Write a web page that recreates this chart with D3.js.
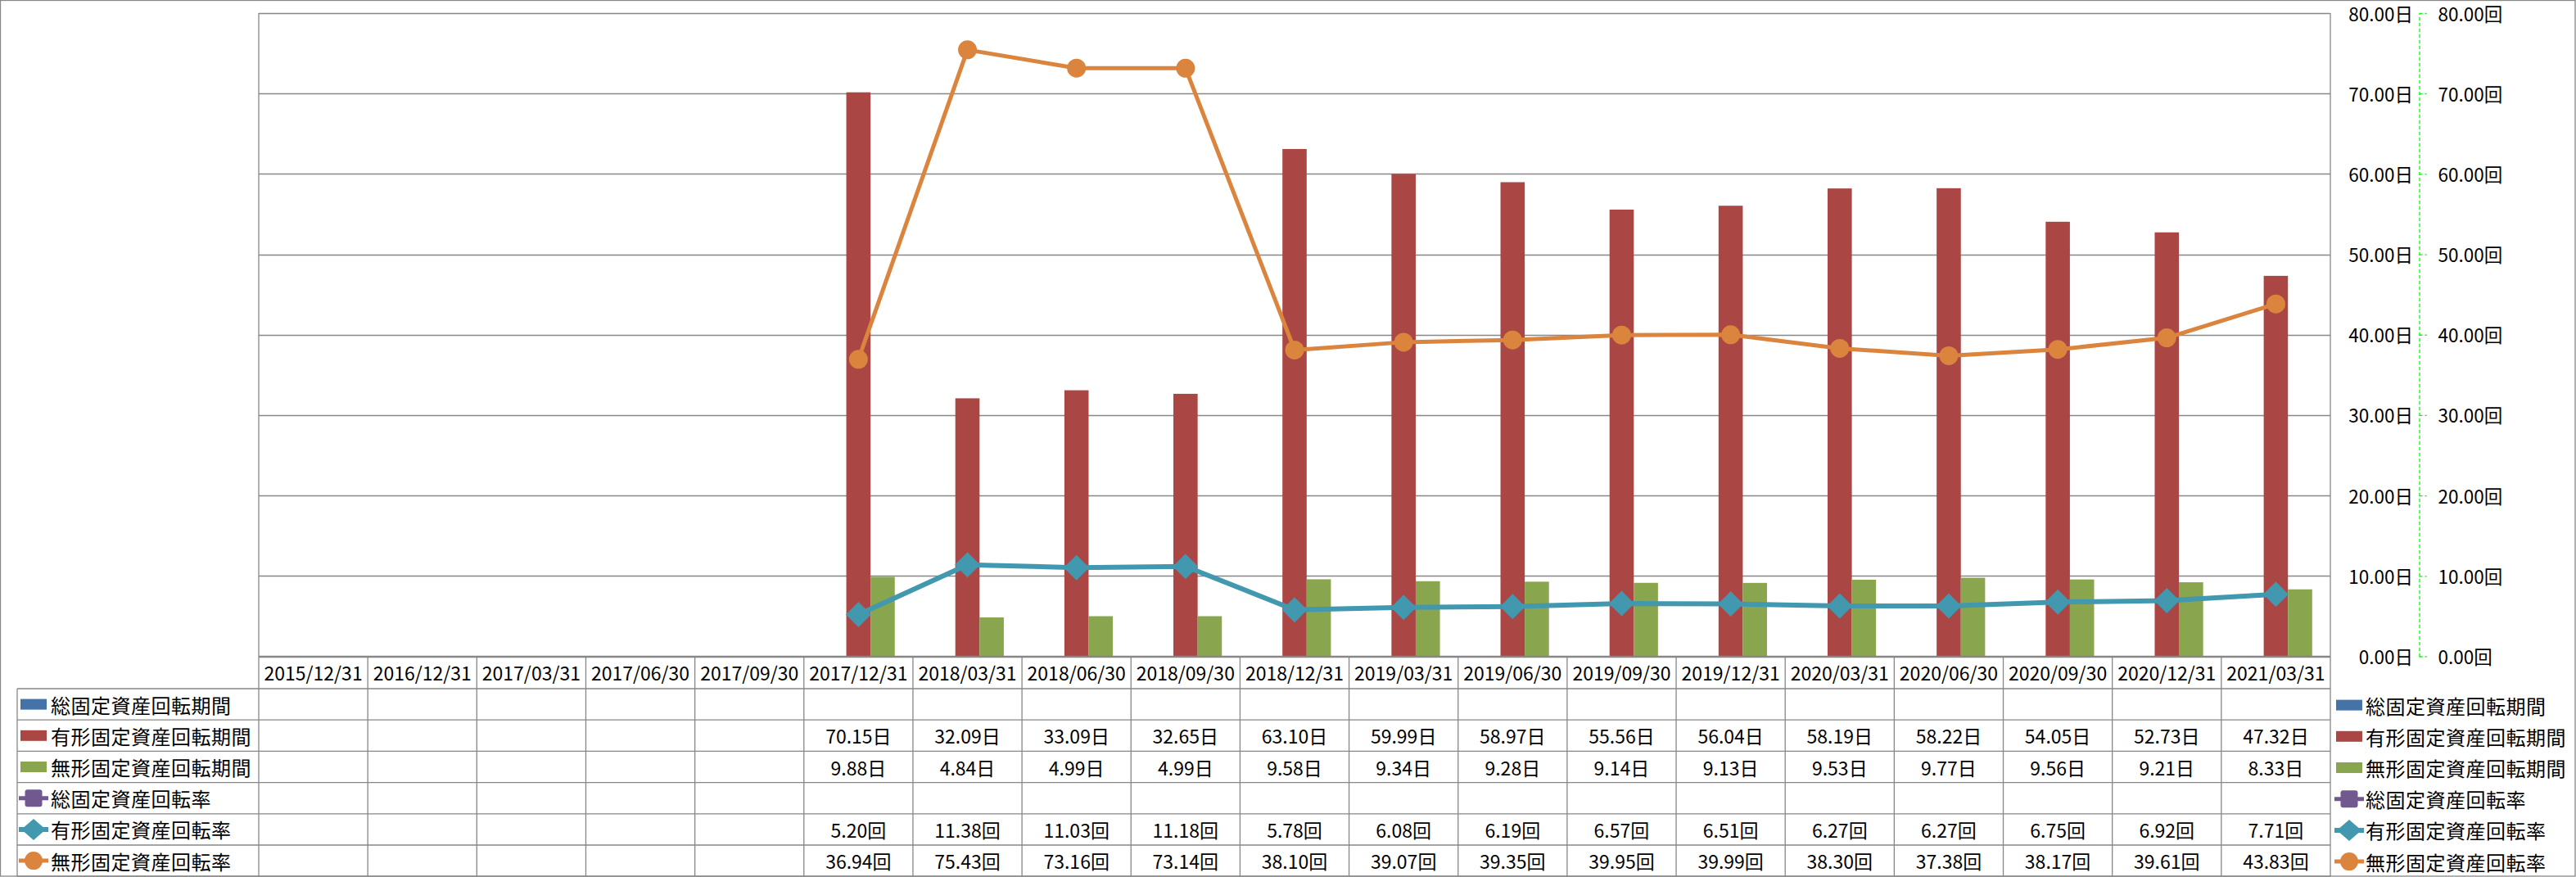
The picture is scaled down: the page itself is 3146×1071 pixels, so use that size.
<!DOCTYPE html>
<html><head><meta charset="utf-8">
<script src="https://cdn.jsdelivr.net/npm/d3@7"></script>
<style>
html,body{margin:0;padding:0;background:#fff;}
svg{display:block;font-family:"Noto Sans CJK JP","Noto Sans",sans-serif;}
</style></head>
<body>
<svg id="c" width="3146" height="1071"></svg>
<script>
const categories = ["2015/12/31","2016/12/31","2017/03/31","2017/06/30","2017/09/30","2017/12/31","2018/03/31","2018/06/30","2018/09/30","2018/12/31","2019/03/31","2019/06/30","2019/09/30","2019/12/31","2020/03/31","2020/06/30","2020/09/30","2020/12/31","2021/03/31"];
const seriesNames = ["総固定資産回転期間","有形固定資産回転期間","無形固定資産回転期間","総固定資産回転率","有形固定資産回転率","無形固定資産回転率"];
const totalPeriod = [null,null,null,null,null,null,null,null,null,null,null,null,null,null,null,null,null,null,null];
const tangiblePeriod = [null,null,null,null,null,70.15,32.09,33.09,32.65,63.10,59.99,58.97,55.56,56.04,58.19,58.22,54.05,52.73,47.32];
const intangiblePeriod = [null,null,null,null,null,9.88,4.84,4.99,4.99,9.58,9.34,9.28,9.14,9.13,9.53,9.77,9.56,9.21,8.33];
const totalRate = [null,null,null,null,null,null,null,null,null,null,null,null,null,null,null,null,null,null,null];
const tangibleRate = [null,null,null,null,null,5.20,11.38,11.03,11.18,5.78,6.08,6.19,6.57,6.51,6.27,6.27,6.75,6.92,7.71];
const intangibleRate = [null,null,null,null,null,36.94,75.43,73.16,73.14,38.10,39.07,39.35,39.95,39.99,38.30,37.38,38.17,39.61,43.83];
const axisTicks = [0,10,20,30,40,50,60,70,80];
const colors = ["#4572A7","#AA4643","#89A54E","#71588F","#4198AF","#DB843D"];

const barSeries = [totalPeriod, tangiblePeriod, intangiblePeriod];
const lineSeries = [totalRate, tangibleRate, intangibleRate];
const units = ["日","日","日","回","回","回"];
const allSeries = [totalPeriod, tangiblePeriod, intangiblePeriod, totalRate, tangibleRate, intangibleRate];

const W = 3146, H = 1071;
const L = 316, R = 2846, T = 16, B = 801.5;
const rowH = 38.2;
const tableLeft = 21;
const gridCol = "#878787";
const fontNum = 23, fontCJK = 24, fontAxis = 22.5;

const svg = d3.select("#c");
svg.append("rect").attr("x",0.5).attr("y",0.5).attr("width",W-1.5).attr("height",H-1.5)
  .attr("fill","#fff").attr("stroke",gridCol).attr("stroke-width",1.3);

const x = d3.scaleBand().domain(categories).range([L,R]).padding(0);
const y = d3.scaleLinear().domain([0,80]).range([B,T]);
const y2 = d3.scaleLinear().domain([0,80]).range([B,T]);
const bw = x.bandwidth();
const groupW = bw*3/4.5;
const xs = d3.scaleBand().domain([0,1,2]).range([(bw-groupW)/2,(bw+groupW)/2]).padding(0);

// gridlines
svg.append("g").selectAll("line").data(axisTicks).join("line")
  .attr("x1",L).attr("x2",R).attr("y1",d=>Math.round(y(d))+0.5).attr("y2",d=>Math.round(y(d))+0.5)
  .attr("stroke",gridCol).attr("stroke-width",1.3);
// plot vertical borders
[L,R].forEach(v=>svg.append("line").attr("x1",v).attr("x2",v).attr("y1",T).attr("y2",B)
  .attr("stroke",gridCol).attr("stroke-width",1.3));

// bars
barSeries.forEach((s,si)=>{
  svg.append("g").selectAll("rect").data(s.map((v,i)=>({v,i})).filter(d=>d.v!=null)).join("rect")
    .attr("x",d=>x(categories[d.i])+xs(si)).attr("width",xs.bandwidth())
    .attr("y",d=>y(d.v)).attr("height",d=>y(0)-y(d.v)).attr("fill",colors[si]);
});

// lines
lineSeries.forEach((s,si)=>{
  const pts = s.map((v,i)=>({v,i})).filter(d=>d.v!=null);
  const col = colors[3+si];
  const line = d3.line().x(d=>x(categories[d.i])+bw/2).y(d=>y2(d.v));
  const g = svg.append("g");
  g.append("path").datum(pts).attr("d",line).attr("fill","none").attr("stroke",col)
    .attr("stroke-width", si===1?6:5).attr("stroke-linejoin","round");
  pts.forEach(d=>{
    const cx = x(categories[d.i])+bw/2, cy = y2(d.v);
    if(si===0) g.append("rect").attr("x",cx-10).attr("y",cy-10).attr("width",20).attr("height",20).attr("rx",3).attr("fill",col);
    else if(si===1) g.append("path").attr("d",`M${cx},${cy-15.5}L${cx+15.5},${cy}L${cx},${cy+15.5}L${cx-15.5},${cy}Z`).attr("fill",col);
    else g.append("circle").attr("cx",cx).attr("cy",cy).attr("r",11.5).attr("fill",col);
  });
});

// axes on right
const axX = 2954;
const ax1 = d3.axisLeft(y).tickValues(axisTicks).tickSize(0).tickPadding(7).tickFormat(d=>d3.format(".2f")(d)+"日");
const g1 = svg.append("g").attr("transform",`translate(${axX},0)`).call(ax1);
g1.select(".domain").remove();
g1.selectAll("text").attr("font-size",fontAxis).attr("fill","#000").attr("dy","0.4em").attr("font-family",'"Noto Sans CJK JP",sans-serif');
const ax2 = d3.axisRight(y2).tickValues(axisTicks).tickSize(9).tickSizeOuter(0).tickPadding(14).tickFormat(d=>d3.format(".2f")(d)+"回");
const g2 = svg.append("g").attr("transform",`translate(${axX+0.5},0)`).call(ax2);
g2.select(".domain").attr("stroke","#00FF00").attr("stroke-width",1.3).attr("stroke-dasharray","4,3");
g2.selectAll(".tick line").attr("stroke","#00FF00").attr("stroke-width",1.3).attr("stroke-dasharray","4,3");
g2.selectAll("text").attr("font-size",fontAxis).attr("fill","#000").attr("dy","0.4em").attr("font-family",'"Noto Sans CJK JP",sans-serif');

// data table
const tb = svg.append("g");
const headTop = B, headBot = B + 39.5;
const rowY = i => headBot + i*rowH;
tb.append("line").attr("x1",L).attr("x2",R).attr("y1",headTop).attr("y2",headTop).attr("stroke",gridCol).attr("stroke-width",1.3);
for(let i=0;i<=6;i++){
  tb.append("line").attr("x1",tableLeft).attr("x2",R).attr("y1",rowY(i)).attr("y2",rowY(i)).attr("stroke",gridCol).attr("stroke-width",1.3);
}
categories.forEach((c,i)=>{
  tb.append("line").attr("x1",x(c)).attr("x2",x(c)).attr("y1",headTop).attr("y2",rowY(6)).attr("stroke",gridCol).attr("stroke-width",1.3);
});
tb.append("line").attr("x1",R).attr("x2",R).attr("y1",headTop).attr("y2",rowY(6)).attr("stroke",gridCol).attr("stroke-width",1.3);
tb.append("line").attr("x1",tableLeft).attr("x2",tableLeft).attr("y1",rowY(0)).attr("y2",rowY(6)).attr("stroke",gridCol).attr("stroke-width",1.3);
tb.append("g").selectAll("text").data(categories).join("text")
  .attr("x",d=>x(d)+bw/2).attr("y",(headTop+headBot)/2).attr("text-anchor","middle").attr("dominant-baseline","central")
  .attr("font-size",fontNum).attr("fill","#000").text(d=>d);
allSeries.forEach((s,si)=>{
  tb.append("g").selectAll("text").data(s.map((v,i)=>({v,i})).filter(d=>d.v!=null)).join("text")
    .attr("x",d=>x(categories[d.i])+bw/2).attr("y",rowY(si)+rowH/2).attr("text-anchor","middle").attr("dominant-baseline","central")
    .attr("font-size",fontNum).attr("fill","#000").text(d=>d3.format(".2f")(d.v)+units[si]);
});

function key(g,si,cx,cy){
  const col = colors[si];
  if(si<3){ g.append("rect").attr("x",cx-16).attr("y",cy-6.5).attr("width",32).attr("height",13).attr("fill",col); }
  else {
    g.append("line").attr("x1",cx-18).attr("x2",cx+18).attr("y1",cy).attr("y2",cy).attr("stroke",col).attr("stroke-width",si===4?6:5);
    if(si===3) g.append("rect").attr("x",cx-10.5).attr("y",cy-10.5).attr("width",21).attr("height",21).attr("rx",3).attr("fill",col);
    else if(si===4) g.append("path").attr("d",`M${cx},${cy-13}L${cx+15},${cy}L${cx},${cy+13}L${cx-15},${cy}Z`).attr("fill",col);
    else g.append("circle").attr("cx",cx).attr("cy",cy).attr("r",11).attr("fill",col);
  }
}
seriesNames.forEach((n,si)=>{
  const cy = rowY(si)+rowH/2;
  key(tb,si,41,cy);
  tb.append("text").attr("x",62).attr("y",cy).attr("dominant-baseline","central").attr("font-size",fontCJK)
    .attr("letter-spacing",0.5).attr("fill","#000").text(n);
});
const lg = svg.append("g");
seriesNames.forEach((n,si)=>{
  const cy = rowY(si)+rowH/2 + 1;
  key(lg,si,2869,cy);
  lg.append("text").attr("x",2889).attr("y",cy).attr("dominant-baseline","central").attr("font-size",fontCJK)
    .attr("letter-spacing",0.5).attr("fill","#000").text(n);
});
</script>
</body></html>
